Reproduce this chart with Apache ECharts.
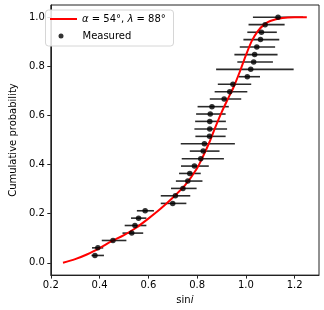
<!DOCTYPE html>
<html>
<head>
<meta charset="utf-8">
<script src="https://cdn.jsdelivr.net/npm/echarts@6/dist/echarts.min.js"></script>
<style>
html,body{margin:0;padding:0;background:#fff;}
#chart{width:324px;height:310px;}
</style>
</head>
<body>
<div id="chart"></div>
<script>
// Measured points
var sinI = [0.381,0.393,0.455,0.532,0.545,0.560,0.587,0.700,0.711,0.742,0.762,0.770,0.789,0.815,0.825,0.830,0.851,0.852,0.852,0.854,0.861,0.911,0.934,0.947,1.006,1.020,1.032,1.036,1.045,1.060,1.064,1.079,1.132];
var cumProb = [0.030,0.061,0.091,0.121,0.152,0.182,0.212,0.242,0.273,0.303,0.333,0.364,0.394,0.424,0.455,0.485,0.515,0.545,0.576,0.606,0.636,0.667,0.697,0.727,0.758,0.788,0.818,0.848,0.879,0.909,0.939,0.970,1.000];
var sinILow = [0.367,0.369,0.409,0.494,0.503,0.529,0.553,0.651,0.651,0.693,0.713,0.726,0.734,0.737,0.770,0.733,0.793,0.789,0.792,0.796,0.802,0.852,0.872,0.885,0.970,0.878,0.965,0.953,0.975,0.990,1.006,1.011,1.029];
var sinIHigh = [0.418,0.415,0.510,0.579,0.592,0.592,0.623,0.756,0.772,0.798,0.822,0.815,0.848,0.910,0.892,0.955,0.917,0.923,0.918,0.917,0.930,0.981,1.006,1.022,1.058,1.196,1.111,1.130,1.120,1.137,1.127,1.159,1.235];

// Model curve
var curveX = [0.25,0.30,0.35,0.40,0.45,0.50,0.55,0.60,0.65,0.70,0.75,0.80,0.825,0.85,0.875,0.90,0.925,0.95,0.975,1.00,1.025,1.05,1.075,1.10,1.15,1.20,1.25];
var curveY = [0.000,0.015,0.035,0.060,0.088,0.113,0.143,0.180,0.220,0.265,0.315,0.385,0.435,0.490,0.553,0.612,0.665,0.716,0.778,0.845,0.905,0.945,0.970,0.985,0.997,1.000,1.000];

// Tick labels
var xTicks = [0.2,0.4,0.6,0.8,1.0,1.2];
var yTicks = [0.0,0.2,0.4,0.6,0.8,1.0];

var fitName = 'fit';
var measName = 'Measured';

var curveData = curveX.map(function(x,i){return [x, curveY[i]];});
var pointData = sinI.map(function(x,i){return [x, cumProb[i]];});
var errData = sinI.map(function(x,i){return [sinILow[i], sinIHigh[i], cumProb[i]];});

var font = 'DejaVu Sans';
var legendText = {fontFamily: font, fontSize: 10, color: '#000',
  rich: {i: {fontFamily: font, fontSize: 10, fontStyle: 'italic', color: '#000'}}};
var chart = echarts.init(document.getElementById('chart'), null, {renderer:'canvas'});
chart.setOption({
  animation: false,
  backgroundColor: '#fff',
  textStyle: {fontFamily: font},
  grid: {left: 40, right: 5, top: 5, bottom: 33, show: true, borderColor: '#222', borderWidth: 1, backgroundColor: 'transparent'},
  xAxis: {
    type: 'value', min: 0.2, max: 1.3,
    name: '{n|sin}{i|i}', nameLocation: 'middle', nameGap: 17,
    nameTextStyle: {fontFamily: font, fontSize: 10, color: '#000',
      rich: {n: {fontFamily: font, fontSize: 10, color:'#000'}, i: {fontFamily: font, fontSize: 10, fontStyle: 'italic', color:'#000'}}},
    axisLine: {show: true, onZero: false, lineStyle: {color: '#222', width: 1}},
    axisTick: {show: true, inside: false, length: 3.5, lineStyle: {color: '#222'}, customValues: xTicks},
    axisLabel: {fontFamily: font, fontSize: 10, color: '#000', margin: 5, customValues: xTicks,
      formatter: function(v){return v.toFixed(1);}},
    splitLine: {show: false}
  },
  yAxis: {
    type: 'value', min: -0.05, max: 1.05,
    name: 'Cumulative probability', nameLocation: 'middle', nameGap: 30,
    nameTextStyle: {fontFamily: font, fontSize: 10, color: '#000'},
    axisLine: {show: true, onZero: false, lineStyle: {color: '#222', width: 1}},
    axisTick: {show: true, inside: false, length: 3.5, lineStyle: {color: '#222'}, customValues: yTicks},
    axisLabel: {fontFamily: font, fontSize: 10, color: '#000', margin: 6, customValues: yTicks,
      formatter: function(v){return v.toFixed(1);}},
    splitLine: {show: false}
  },
  graphic: [{
    type: 'rect', z: 3, silent: true,
    shape: {x: 45.5, y: 10, width: 128, height: 36, r: 3},
    style: {fill: 'rgba(255,255,255,0.85)', stroke: '#d6d6d6', lineWidth: 1}
  }],
  legend: [{
    left: 46, top: 12, z: 6, orient: 'vertical',
    padding: [2, 4, 2, 4],
    itemWidth: 27, itemHeight: 2, itemGap: 0,
    data: [{name: fitName, icon: 'rect'}],
    formatter: function(){ return '{i|α} = 54°, {i|λ} = 88°'; },
    textStyle: legendText
  }, {
    left: 54.5, top: 29, z: 6, orient: 'vertical',
    padding: [2, 4, 2, 4],
    itemWidth: 5, itemHeight: 5, itemGap: 0,
    data: [{name: measName, icon: 'circle'}],
    textStyle: {fontFamily: font, fontSize: 10, color: '#000', padding: [0, 0, 0, 14]}
  }],
  series: [
    {
      name: 'err', type: 'custom', z: 2, silent: true,
      data: errData,
      renderItem: function(params, api){
        var p1 = api.coord([api.value(0), api.value(2)]);
        var p2 = api.coord([api.value(1), api.value(2)]);
        return {type: 'line', shape: {x1: p1[0], y1: p1[1], x2: p2[0], y2: p2[1]},
          style: {stroke: '#2a2a2a', lineWidth: 1.6}};
      }
    },
    {
      name: fitName, type: 'line', z: 3, data: curveData,
      showSymbol: false, symbol: 'none', smooth: 0.3,
      lineStyle: {color: '#ff0000', width: 2},
      itemStyle: {color: '#ff0000'}
    },
    {
      name: measName, type: 'scatter', z: 4, data: pointData,
      symbol: 'circle', symbolSize: 5.5,
      itemStyle: {color: '#000'}
    }
  ]
});
</script>
</body>
</html>
